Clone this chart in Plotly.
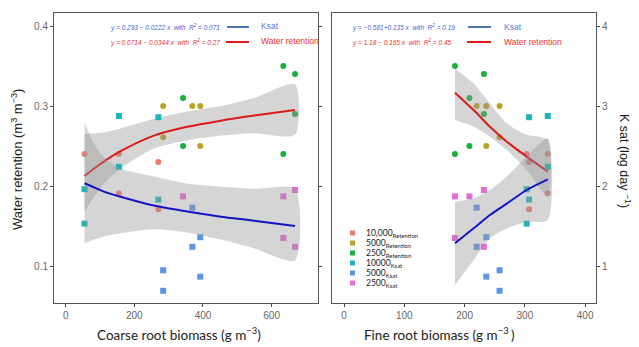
import plotly.graph_objects as go

W, H = 639, 347

# ---------------- data: coarse root biomass panel ----------------
c_ret10000_x = [55, 155, 270, 155, 270]
c_ret10000_y = [0.240, 0.240, 0.230, 0.191, 0.171]
c_ret5000_x = [284, 284, 369, 392, 392]
c_ret5000_y = [0.300, 0.261, 0.300, 0.300, 0.250]
c_ret2500_x = [342, 342, 634, 668, 668, 634]
c_ret2500_y = [0.310, 0.250, 0.350, 0.340, 0.290, 0.240]
c_ks10000_x = [155, 270, 155, 55, 55, 270]
c_ks10000_y = [2.875, 2.86, 2.24, 1.96, 1.53, 1.83]
c_ks5000_x = [369, 392, 369, 284, 392, 284]
c_ks5000_y = [1.73, 1.36, 1.24, 0.946, 0.867, 0.69]
c_ks2500_x = [342, 634, 668, 634, 668]
c_ks2500_y = [1.87, 1.87, 1.95, 1.35, 1.24]

c_fit_x = [55, 82, 111, 160, 257, 354, 452, 549, 668]
c_ret_fit = [0.2125, 0.2215, 0.2305, 0.2435, 0.263, 0.274, 0.2817, 0.288, 0.295]
c_ret_hi = [0.265, 0.266, 0.267, 0.272, 0.284, 0.293, 0.300, 0.310, 0.327]
c_ret_lo = [0.168, 0.186, 0.203, 0.222, 0.247, 0.257, 0.263, 0.266, 0.264]
c_ks_fit = [2.034, 1.984, 1.930, 1.866, 1.755, 1.68, 1.617, 1.567, 1.50]
c_ks_hi = [2.79, 2.53, 2.36, 2.22, 2.12, 2.03, 1.99, 1.965, 1.96]
c_ks_lo = [1.28, 1.33, 1.37, 1.41, 1.46, 1.42, 1.33, 1.22, 1.07]

# ---------------- data: fine root biomass panel ----------------
f_ret10000_x = [303, 307, 338, 338, 307]
f_ret10000_y = [0.240, 0.230, 0.240, 0.191, 0.171]
f_ret5000_x = [220, 236, 258, 236, 258]
f_ret5000_y = [0.300, 0.300, 0.300, 0.250, 0.261]
f_ret2500_x = [184, 232, 208, 232, 208, 184]
f_ret2500_y = [0.350, 0.340, 0.310, 0.290, 0.250, 0.240]
f_ks10000_x = [307, 338, 338, 303, 307, 303]
f_ks10000_y = [2.86, 2.875, 2.24, 1.96, 1.83, 1.53]
f_ks5000_x = [220, 236, 220, 258, 236, 258]
f_ks5000_y = [1.73, 1.36, 1.24, 0.946, 0.867, 0.69]
f_ks2500_x = [184, 208, 232, 184, 232]
f_ks2500_y = [1.87, 1.87, 1.95, 1.35, 1.24]

f_fit_x = [184, 215, 242, 270, 303, 338]
f_ret_fit = [0.3167, 0.295, 0.274, 0.2554, 0.2367, 0.218]
f_ret_hi = [0.347, 0.328, 0.303, 0.278, 0.264, 0.2575]
f_ret_lo = [0.2825, 0.274, 0.2617, 0.245, 0.220, 0.1867]
f_ks_fit = [1.284, 1.471, 1.6375, 1.78, 1.95, 2.083]
f_ks_hi = [1.80, 1.846, 1.95, 2.12, 2.37, 2.596]
f_ks_lo = [0.7625, 1.075, 1.346, 1.47, 1.55, 1.575]

legend_labels = [("10,000", "Retention"), ("5000", "Retention"), ("2500", "Retention"),
                 ("10000", "Ksat"), ("5000", "Ksat"), ("2500", "Ksat")]
eq_left = ["y = 0.293 \u2212 0.0222 x  with  R<sup>2</sup> = 0.071",
           "y = 0.0714 \u2212 0.0344 x  with  R<sup>2</sup> = 0.27"]
eq_right = ["y = \u22120.581+0.135 x  with  R<sup>2</sup> = 0.19",
            "y = 1.18 \u2212 0.165 x  with  R<sup>2</sup> = 0.45"]

# ---------------- styles ----------------
COL = ["#EE7A70", "#BBA126", "#1DAF3C", "#1DB4BC", "#5A96E6", "#E46AD6"]
RED = "#DD1A1A"
BLUE = "#1414C4"
BAND = "rgba(150,150,150,0.40)"

fig = go.Figure()

def pts(x, y, col, sym, xa, ya):
    fig.add_trace(go.Scatter(x=x, y=y, mode="markers", xaxis=xa, yaxis=ya,
                             marker=dict(color=col, size=6, symbol=sym, line=dict(width=0)),
                             showlegend=False, hoverinfo="skip"))

def band(x, lo, hi, xa, ya):
    fig.add_trace(go.Scatter(x=list(x) + list(x)[::-1], y=list(hi) + list(lo)[::-1],
                             mode="lines", fill="toself", fillcolor=BAND,
                             line=dict(width=0, shape="spline", smoothing=0.7), xaxis=xa, yaxis=ya,
                             showlegend=False, hoverinfo="skip"))

def line(x, y, col, xa, ya):
    fig.add_trace(go.Scatter(x=x, y=y, mode="lines", xaxis=xa, yaxis=ya,
                             line=dict(color=col, width=2, shape="spline", smoothing=0.7),
                             showlegend=False, hoverinfo="skip"))

# left panel: retention on y, Ksat on y3
pts(c_ret10000_x, c_ret10000_y, COL[0], "circle", "x", "y")
pts(c_ret5000_x, c_ret5000_y, COL[1], "circle", "x", "y")
pts(c_ret2500_x, c_ret2500_y, COL[2], "circle", "x", "y")
band(c_fit_x, c_ret_lo, c_ret_hi, "x", "y")
line(c_fit_x, c_ret_fit, RED, "x", "y")
pts(c_ks10000_x, c_ks10000_y, COL[3], "square", "x", "y3")
pts(c_ks5000_x, c_ks5000_y, COL[4], "square", "x", "y3")
pts(c_ks2500_x, c_ks2500_y, COL[5], "square", "x", "y3")
band(c_fit_x, c_ks_lo, c_ks_hi, "x", "y3")
line(c_fit_x, c_ks_fit, BLUE, "x", "y3")

# right panel: retention on y2, Ksat on y4
pts(f_ret10000_x, f_ret10000_y, COL[0], "circle", "x2", "y2")
pts(f_ret5000_x, f_ret5000_y, COL[1], "circle", "x2", "y2")
pts(f_ret2500_x, f_ret2500_y, COL[2], "circle", "x2", "y2")
band(f_fit_x, f_ret_lo, f_ret_hi, "x2", "y2")
line(f_fit_x, f_ret_fit, RED, "x2", "y2")
pts(f_ks10000_x, f_ks10000_y, COL[3], "square", "x2", "y4")
pts(f_ks5000_x, f_ks5000_y, COL[4], "square", "x2", "y4")
pts(f_ks2500_x, f_ks2500_y, COL[5], "square", "x2", "y4")
band(f_fit_x, f_ks_lo, f_ks_hi, "x2", "y4")
line(f_fit_x, f_ks_fit, BLUE, "x2", "y4")

ydom = [1 - 303 / H, 1 - 13 / H]
TICKF = dict(family="Liberation Sans, Arial, sans-serif", size=10, color="#666")
common = dict(showgrid=False, zeroline=False, ticks="outside", ticklen=3, tickcolor="#444",
              tickfont=TICKF, linecolor="#555", linewidth=1)

fig.update_layout(
    width=W, height=H, margin=dict(l=0, r=0, t=0, b=0),
    paper_bgcolor="white", plot_bgcolor="white", showlegend=False,
    xaxis=dict(domain=[54 / W, 318 / W], range=[-34, 735], tickvals=[0, 200, 400, 600],
               anchor="y", showline=True, mirror=True, **common),
    yaxis=dict(domain=ydom, range=[0.05375, 0.41625], tickvals=[0.1, 0.2, 0.3, 0.4],
               ticktext=["0.1", "0.2", "0.3", "0.4"], anchor="x", showline=True,
               mirror="ticks", **common),
    yaxis3=dict(overlaying="y", anchor="x", range=[0.5375, 4.1625], visible=False),
    xaxis2=dict(domain=[332 / W, 596 / W], range=[-20, 418], tickvals=[0, 100, 200, 300, 400],
                anchor="y2", showline=True, mirror=True, **common),
    yaxis2=dict(domain=ydom, range=[0.05375, 0.41625], anchor="x2", showline=True, mirror=True,
                showticklabels=False, ticks="", showgrid=False, zeroline=False,
                linecolor="#555", linewidth=1),
    yaxis4=dict(overlaying="y2", anchor="x2", side="right", range=[0.5375, 4.1625],
                tickvals=[1, 2, 3, 4], showline=False, **common),
)

def P(xp, yp):
    return xp / W, 1 - yp / H

ann = []
def text(xp, yp, s, size, color, xanchor="center", angle=0, family="Liberation Sans, Arial, sans-serif"):
    x, y = P(xp, yp)
    ann.append(dict(x=x, y=y, xref="paper", yref="paper", text=s, showarrow=False,
                    xanchor=xanchor, yanchor="middle", textangle=angle,
                    font=dict(size=size, color=color, family=family)))

TFONT = "Lato, Liberation Sans, sans-serif"
text(17, 160, "Water retention (m<sup>3</sup> m<sup>\u22123</sup>)", 13, "#222", angle=-90,
     family="Liberation Sans, Arial, sans-serif")
text(625, 161, "K sat (log day <sup>\u22121</sup>)", 12.5, "#222", angle=90,
     family="Liberation Sans, Arial, sans-serif")
text(179, 334, "Coarse root biomass (g m<sup>\u22123</sup>)", 13.5, "#222", family=TFONT)
text(440, 334, "Fine root biomass (g m<sup>\u22123 </sup>)", 13.5, "#222", family=TFONT)

# equation legends
EQB, EQR = "#4B5BD6", "#E8302C"
LB, LR = "#4A72BE", "#E01818"
text(222, 27, "<i>" + eq_left[0] + "</i>", 6.5, EQB, xanchor="right")
text(222, 42, "<i>" + eq_left[1] + "</i>", 6.5, EQR, xanchor="right")
text(259, 26, "Ksat", 8.5, "#5A7BD5", xanchor="left")
text(259, 41, "Water retention", 8.5, EQR, xanchor="left")
text(457, 27, "<i>" + eq_right[0] + "</i>", 6.5, EQB, xanchor="right")
text(453, 42, "<i>" + eq_right[1] + "</i>", 6.5, EQR, xanchor="right")
text(502, 27, "Ksat", 8.5, "#5A7BD5", xanchor="left")
text(502, 42, "Water retention", 8.5, EQR, xanchor="left")

shapes = []
def seg(x0, x1, yp, col):
    a0, b0 = P(x0, yp)
    a1, _ = P(x1, yp)
    shapes.append(dict(type="line", xref="paper", yref="paper", x0=a0, x1=a1, y0=b0, y1=b0,
                       line=dict(color=col, width=2)))
seg(227, 249, 27, LB)
seg(226, 249, 42, LR)
seg(468, 491, 27, LB)
seg(467, 491, 42, LR)

# bottom-right sample legend
for i, (main, sub) in enumerate(legend_labels):
    yp = 233 + i * 10
    x0, y0 = P(350, yp - 2.5)
    x1, y1 = P(355, yp + 2.5)
    shapes.append(dict(type="rect", xref="paper", yref="paper", x0=x0, x1=x1, y0=y1, y1=y0,
                       fillcolor=COL[i], line=dict(width=0)))
    text(364, yp, main + "<sub>" + sub + "</sub>", 8.5, "#222", xanchor="left",
         family="Lato, Liberation Sans, sans-serif")

fig.update_layout(annotations=ann, shapes=shapes)
fig.write_html("out.html")
